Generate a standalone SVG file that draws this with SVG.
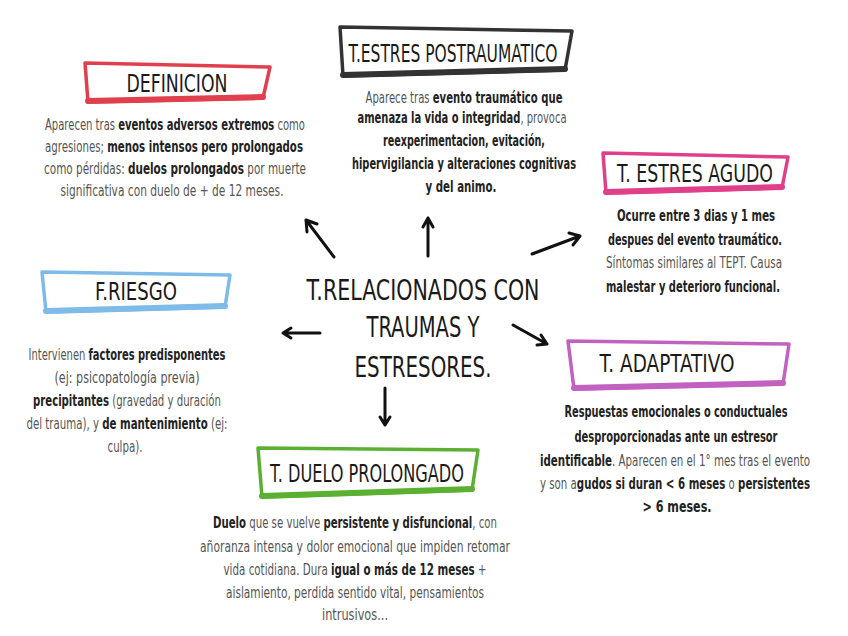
<svg xmlns="http://www.w3.org/2000/svg" width="848" height="636" viewBox="0 0 848 636">
<style>
.t{font-family:"DejaVu Sans Condensed","DejaVu Sans","Liberation Sans",sans-serif;font-stretch:condensed;}
.title{font-size:25px;fill:#1a1a1a;text-anchor:middle;}
.center{font-size:29px;fill:#1a1a1a;text-anchor:middle;}
.body{font-size:15px;fill:#555;text-anchor:middle;}
.b{font-weight:bold;fill:#222;}
.n{font-weight:normal;fill:#555;}
.box{fill:none;stroke-linejoin:round;stroke-linecap:round;}
.arr{fill:none;stroke:#111;stroke-width:3;stroke-linecap:round;stroke-linejoin:round;}
</style>
<rect width="848" height="636" fill="#fff"/>

<g id="connectors">
<path class="arr" d="M334 257 L306 220 M306 220 L307 232 M306 220 L317 224"/>
<path class="arr" d="M428 256 L428 218 M428 218 L423 227 M428 218 L433 227"/>
<path class="arr" d="M532 254 L580 236 M580 236 L569 233 M580 236 L573 245"/>
<path class="arr" d="M320 333 L283 333 M283 333 L291 328 M283 333 L291 338"/>
<path class="arr" d="M513 325 L547 344 M547 344 L541 335 M547 344 L537 345"/>
<path class="arr" d="M385 388 L385 425 M385 425 L380 417 M385 425 L390 417"/>
</g>

<g id="center-node">
<text class="t center" x="423" y="300" textLength="233" lengthAdjust="spacingAndGlyphs">T.RELACIONADOS CON</text>
<text class="t center" x="423" y="337" textLength="113" lengthAdjust="spacingAndGlyphs">TRAUMAS Y</text>
<text class="t center" x="423" y="377" textLength="137" lengthAdjust="spacingAndGlyphs">ESTRESORES.</text>
</g>

<g id="definicion">
<path class="box" stroke="#e0404d" stroke-width="3.5" d="M85 63 L270 67 L263 98 L88 102 Z"/>
<path class="box" stroke="#e0404d" stroke-width="6" d="M88 101 L263 97"/>
<text class="t title" x="177" y="92" textLength="101" lengthAdjust="spacingAndGlyphs">DEFINICION</text>
<text class="t body" x="175" y="130" textLength="260" lengthAdjust="spacingAndGlyphs">Aparecen tras <tspan class="b">eventos adversos extremos</tspan> como</text>
<text class="t body" x="174" y="152" textLength="258" lengthAdjust="spacingAndGlyphs">agresiones; <tspan class="b">menos intensos pero prolongados</tspan></text>
<text class="t body" x="175" y="174" textLength="262" lengthAdjust="spacingAndGlyphs">como pérdidas: <tspan class="b">duelos prolongados</tspan> por muerte</text>
<text class="t body" x="172" y="196" textLength="223" lengthAdjust="spacingAndGlyphs">significativa con duelo de + de 12 meses.</text>
</g>

<g id="postraumatico">
<path class="box" stroke="#333" stroke-width="3.5" d="M340 27 L572 31 L565 70 L343 76 Z"/>
<path class="box" stroke="#333" stroke-width="6" d="M343 75 L565 69"/>
<text class="t title" x="453" y="62" textLength="209" lengthAdjust="spacingAndGlyphs">T.ESTRES POSTRAUMATICO</text>
<text class="t body" x="464" y="103" textLength="197" lengthAdjust="spacingAndGlyphs">Aparece tras <tspan class="b">evento traumático que</tspan></text>
<text class="t body b" x="462" y="123" textLength="209" lengthAdjust="spacingAndGlyphs">amenaza la vida o integridad<tspan class="n">, provoca</tspan></text>
<text class="t body b" x="464" y="146" textLength="162" lengthAdjust="spacingAndGlyphs">reexperimentacion, evitación,</text>
<text class="t body b" x="464" y="169" textLength="224" lengthAdjust="spacingAndGlyphs">hipervigilancia y alteraciones cognitivas</text>
<text class="t body b" x="461" y="192" textLength="71" lengthAdjust="spacingAndGlyphs">y del animo.</text>
</g>

<g id="agudo">
<path class="box" stroke="#e0408a" stroke-width="3.5" d="M603 153 L788 157 L782 188 L606 193 Z"/>
<path class="box" stroke="#e0408a" stroke-width="6" d="M606 192 L782 187"/>
<text class="t title" x="695" y="182" textLength="156" lengthAdjust="spacingAndGlyphs">T. ESTRES AGUDO</text>
<text class="t body b" x="696" y="221" textLength="158" lengthAdjust="spacingAndGlyphs">Ocurre entre 3 dias y 1 mes</text>
<text class="t body b" x="695" y="245" textLength="174" lengthAdjust="spacingAndGlyphs">despues del evento traumático.</text>
<text class="t body" x="694" y="268" textLength="176" lengthAdjust="spacingAndGlyphs">Síntomas similares al TEPT. Causa</text>
<text class="t body b" x="693" y="292" textLength="174" lengthAdjust="spacingAndGlyphs">malestar y deterioro funcional.</text>
</g>

<g id="riesgo">
<path class="box" stroke="#7fbbe8" stroke-width="3.5" d="M42 272 L230 275 L225 307 L46 312 Z"/>
<path class="box" stroke="#7fbbe8" stroke-width="6" d="M46 311 L225 306"/>
<text class="t title" x="136" y="300" textLength="82" lengthAdjust="spacingAndGlyphs">F.RIESGO</text>
<text class="t body" x="127" y="360" textLength="197" lengthAdjust="spacingAndGlyphs">Intervienen <tspan class="b">factores predisponentes</tspan></text>
<text class="t body" x="127" y="383" textLength="145" lengthAdjust="spacingAndGlyphs">(ej: psicopatología previa)</text>
<text class="t body" x="127" y="406" textLength="188" lengthAdjust="spacingAndGlyphs"><tspan class="b">precipitantes</tspan> (gravedad y duración</text>
<text class="t body" x="127" y="429" textLength="201" lengthAdjust="spacingAndGlyphs">del trauma), y <tspan class="b">de mantenimiento</tspan> (ej:</text>
<text class="t body" x="125" y="452" textLength="35" lengthAdjust="spacingAndGlyphs">culpa).</text>
</g>

<g id="adaptativo">
<path class="box" stroke="#c262c0" stroke-width="3.5" d="M568 341 L789 344 L783 384 L574 389 Z"/>
<path class="box" stroke="#c262c0" stroke-width="6" d="M574 388 L783 383"/>
<text class="t title" x="667" y="372" textLength="135" lengthAdjust="spacingAndGlyphs">T. ADAPTATIVO</text>
<text class="t body b" x="676" y="417" textLength="223" lengthAdjust="spacingAndGlyphs">Respuestas emocionales o conductuales</text>
<text class="t body b" x="676" y="442" textLength="203" lengthAdjust="spacingAndGlyphs">desproporcionadas ante un estresor</text>
<text class="t body" x="675" y="466" textLength="270" lengthAdjust="spacingAndGlyphs"><tspan class="b">identificable</tspan>. Aparecen en el 1° mes tras el evento</text>
<text class="t body" x="675" y="489" textLength="270" lengthAdjust="spacingAndGlyphs">y son a<tspan class="b">gudos si duran &lt; 6 meses</tspan> o <tspan class="b">persistentes</tspan></text>
<text class="t body b" x="677" y="512" textLength="69" lengthAdjust="spacingAndGlyphs">&gt; 6 meses.</text>
</g>

<g id="duelo">
<path class="box" stroke="#5bb031" stroke-width="3.5" d="M258 448 L478 450 L472 490 L262 497 Z"/>
<path class="box" stroke="#5bb031" stroke-width="6" d="M262 496 L472 489"/>
<text class="t title" x="367" y="482" textLength="194" lengthAdjust="spacingAndGlyphs">T. DUELO PROLONGADO</text>
<text class="t body" x="355" y="528" textLength="284" lengthAdjust="spacingAndGlyphs"><tspan class="b">Duelo</tspan> que se vuelve <tspan class="b">persistente y disfuncional</tspan>, con</text>
<text class="t body" x="355" y="552" textLength="310" lengthAdjust="spacingAndGlyphs">añoranza intensa y dolor emocional que impiden retomar</text>
<text class="t body" x="355" y="575" textLength="263" lengthAdjust="spacingAndGlyphs">vida cotidiana. Dura <tspan class="b">igual o más de 12 meses</tspan> +</text>
<text class="t body" x="355" y="598" textLength="258" lengthAdjust="spacingAndGlyphs">aislamiento, perdida sentido vital, pensamientos</text>
<text class="t body" x="355" y="620" textLength="66" lengthAdjust="spacingAndGlyphs">intrusivos...</text>
</g>
</svg>
